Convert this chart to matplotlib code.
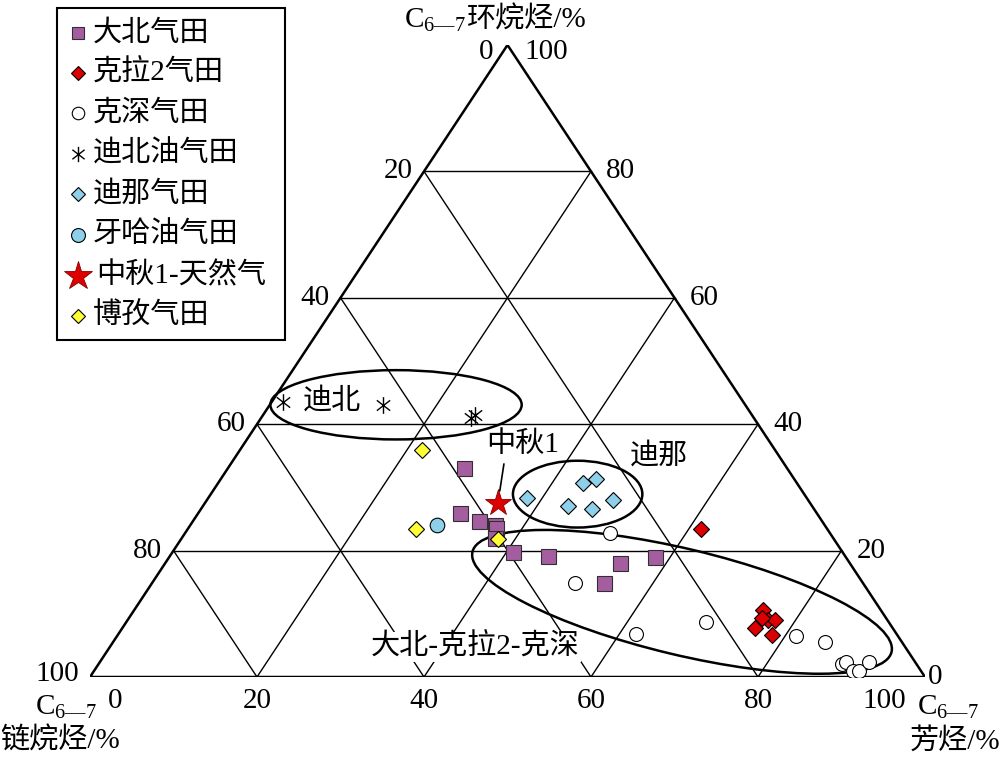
import matplotlib
matplotlib.use("Agg")
import matplotlib.pyplot as plt
from matplotlib.patches import Ellipse, Rectangle
from matplotlib.path import Path
from matplotlib.lines import Line2D

plt.rcParams['font.family'] = ['Liberation Serif', 'Noto Sans CJK SC']
plt.rcParams['font.weight'] = 'light'
plt.rcParams['mathtext.fontset'] = 'custom'
plt.rcParams['mathtext.rm'] = 'Liberation Serif'
plt.rcParams['mathtext.it'] = 'Liberation Serif'

# ---- data (%): 芳烃 = aromatics, 环烷烃 = cycloalkanes, 链烷烃 = 100 - both
dabei_arom = [28.3, 31.4, 34.2, 36.4, 36.8, 37.5, 40.8, 45.3, 54.5, 54.1, 58.2]
dabei_cyclo = [33.1, 25.9, 24.7, 24.1, 23.6, 22.0, 19.8, 19.1, 18.0, 14.9, 19.0]

kela2_arom = [61.5, 75.3, 76.7, 77.5, 75.8, 78.3, 75.8]
kela2_cyclo = [23.4, 10.6, 9.0, 9.0, 7.8, 6.7, 9.3]

keshen_arom = [50.9, 50.6, 62.0, 69.4, 81.3, 85.3, 89.0, 89.3, 90.9, 91.6, 92.1]
keshen_cyclo = [22.8, 14.9, 6.8, 8.7, 6.5, 5.5, 2.1, 2.4, 1.0, 1.0, 2.4]

dibei_arom = [1.4, 13.6, 25.1, 25.4]
dibei_cyclo = [43.5, 43.0, 41.0, 41.5]

dina_arom = [38.2, 43.7, 44.9, 43.7, 46.8, 48.6]
dina_cyclo = [28.3, 30.7, 31.3, 27.1, 26.6, 28.0]

yaha_arom = [29.5]
yaha_cyclo = [24.1]

zhongqiu_arom = [35.1]
zhongqiu_cyclo = [27.5]

bozi_arom = [21.8, 27.3, 38.0]
bozi_cyclo = [35.9, 23.4, 21.8]

ticks = [0, 20, 40, 60, 80, 100]

H = 0.7569  # height of triangle in x units (matches the picture's proportions)


def tern(arom, cyclo):
    xs = [a + c / 2 for a, c in zip(arom, cyclo)]
    ys = [c * H for c in cyclo]
    return xs, ys


def pt(arom, cyclo):
    return arom + cyclo / 2, cyclo * H


# six-spoke asterisk for 迪北
ast = Path([(0, -1), (0, 1), (-0.8, -0.62), (0.8, 0.62), (-0.8, 0.62), (0.8, -0.62)],
           [Path.MOVETO, Path.LINETO] * 3)

styles = [
    ("大北气田", dabei_arom, dabei_cyclo, dict(marker='s', ms=10.8, mfc='#A45EA0', mec='#303030', mew=0.8), dict(ms=8.5)),
    ("克拉2气田", kela2_arom, kela2_cyclo, dict(marker='D', ms=8, mfc='#DD0000', mec='black', mew=0.8), dict(ms=7.5)),
    ("克深气田", keshen_arom, keshen_cyclo, dict(marker='o', ms=10, mfc='white', mec='black', mew=0.8), dict(ms=9)),
    ("迪北油气田", dibei_arom, dibei_cyclo, dict(marker=ast, ms=12, mfc='none', mec='black', mew=1.0), dict(ms=11)),
    ("迪那气田", dina_arom, dina_cyclo, dict(marker='D', ms=8, mfc='#8ECFEA', mec='black', mew=0.8), dict(ms=7.5)),
    ("牙哈油气田", yaha_arom, yaha_cyclo, dict(marker='o', ms=10.5, mfc='#8ECFEA', mec='black', mew=0.8), dict(ms=10)),
    ("中秋1-天然气", zhongqiu_arom, zhongqiu_cyclo, dict(marker='*', ms=20, mfc='#DD0000', mec='#880000', mew=0.6), dict(ms=21)),
    ("博孜气田", bozi_arom, bozi_cyclo, dict(marker='D', ms=8, mfc='#FFFF33', mec='black', mew=0.8), dict(ms=7.5)),
]

fig = plt.figure(figsize=(10, 7.63), dpi=100)
ax = fig.add_axes([0.09, 86 / 763, 0.835, 632 / 763])
ax.set_xlim(0, 100)
ax.set_ylim(0, 100 * H)
ax.axis('off')

# grid lines
for v in [20, 40, 60, 80]:
    x, y = tern([0, 100 - v], [v, v])
    ax.plot(x, y, color='black', lw=1.0, zorder=1)
    x, y = tern([v, v], [0, 100 - v])
    ax.plot(x, y, color='black', lw=1.0, zorder=1)
    x, y = tern([0, 100 - v], [100 - v, 0])
    ax.plot(x, y, color='black', lw=1.0, zorder=1)

# outer triangle
x, y = tern([0, 100, 0, 0], [0, 0, 100, 0])
ax.plot(x, y, color='black', lw=1.8, zorder=2, solid_joinstyle='miter')

# group outlines
ax.add_patch(Ellipse((36.65, 32.6), 30.1, 8.3, angle=0, fill=False, lw=1.8, ec='black', zorder=3))
ax.add_patch(Ellipse((58.4, 21.9), 15.5, 8.0, angle=0, fill=False, lw=1.8, ec='black', zorder=3))
ax.add_patch(Ellipse((70.9, 9.0), 51.6, 12.7, angle=-13.45, fill=False, lw=1.8, ec='black', zorder=3))

# points
for name, ar, cy, st, lst in styles:
    x, y = tern(ar, cy)
    ax.plot(x, y, ls='none', zorder=5, **st)

# tick labels
fs = 21
for v in ticks:
    # left side: 链烷烃
    xy = pt(0, 100 - v)
    if v == 0:
        ax.annotate(str(v), xy, xytext=(-10.5, -5), textcoords='offset points', ha='right', va='center', fontsize=fs)
    else:
        ax.annotate(str(v), xy, xytext=(-8, 2 if v == 100 else 0), textcoords='offset points', ha='right', va='center', fontsize=fs)
    # right side: 环烷烃
    xy = pt(100 - v, v)
    if v == 100:
        ax.annotate(str(v), xy, xytext=(12, -5), textcoords='offset points', ha='left', va='center', fontsize=fs)
    else:
        ax.annotate(str(v), xy, xytext=(2 if v == 0 else 11, 0), textcoords='offset points', ha='left', va='center', fontsize=fs)
    # bottom: 芳烃
    xy = pt(v, 0)
    dx = {0: 18, 100: -29}.get(v, 0)
    ax.annotate(str(v), xy, xytext=(dx, -17), textcoords='offset points', ha='center', va='center', fontsize=fs)

# axis titles
fig.text(466 / 1000, 1 - 20 / 763, 'C$_{6—7}$', ha='right', va='center', fontsize=fs)
fig.text(467 / 1000, 1 - 20 / 763, '环烷烃/%', ha='left', va='center', fontsize=fs)
fig.text(35 / 1000, 1 - 707 / 763, 'C$_{6—7}$', ha='left', va='center', fontsize=fs)
fig.text(0 / 1000, 1 - 741 / 763, '链烷烃/%', ha='left', va='center', fontsize=fs)
fig.text(917 / 1000, 1 - 707 / 763, 'C$_{6—7}$', ha='left', va='center', fontsize=fs)
fig.text(1.0, 1 - 741 / 763, '芳烃/%', ha='right', va='center', fontsize=fs)

# group labels
fig.text(332 / 1000, 1 - 401 / 763, '迪北', ha='center', va='center', fontsize=fs, zorder=6)
fig.text(659 / 1000, 1 - 456 / 763, '迪那', ha='center', va='center', fontsize=fs, zorder=6)
fig.text(475 / 1000, 1 - 647 / 763, '大北-克拉2-克深', ha='center', va='center', fontsize=fs, zorder=6,
         bbox=dict(fc='white', ec='none', pad=1))
sx, sy = tern(zhongqiu_arom, zhongqiu_cyclo)
ax.annotate('中秋1', (sx[0], sy[0]), xytext=(523, 763 - 445), textcoords='figure pixels',
            ha='center', va='center', fontsize=fs, zorder=6,
            arrowprops=dict(arrowstyle='-', color='black', lw=1.2, shrinkA=2, shrinkB=9, relpos=(0.25, 0)))

# legend (drawn by hand so the box matches)
fig.add_artist(Rectangle((57 / 1000, 1 - 340 / 763), 228 / 1000, 332 / 763, transform=fig.transFigure,
                         fill=False, ec='black', lw=1.5))
row_y = [33, 73, 113, 154, 194, 235, 276, 316]
for (name, ar, cy, st, lst), ry in zip(styles, row_y):
    s = dict(st)
    s.update(lst)
    fig.add_artist(Line2D([78 / 1000], [1 - ry / 763], transform=fig.transFigure, ls='none', **s))
    fig.text(93 / 1000 if name != "中秋1-天然气" else 96 / 1000, 1 - ry / 763, name, ha='left', va='center', fontsize=fs)

fig.savefig('out.png', dpi=100)
